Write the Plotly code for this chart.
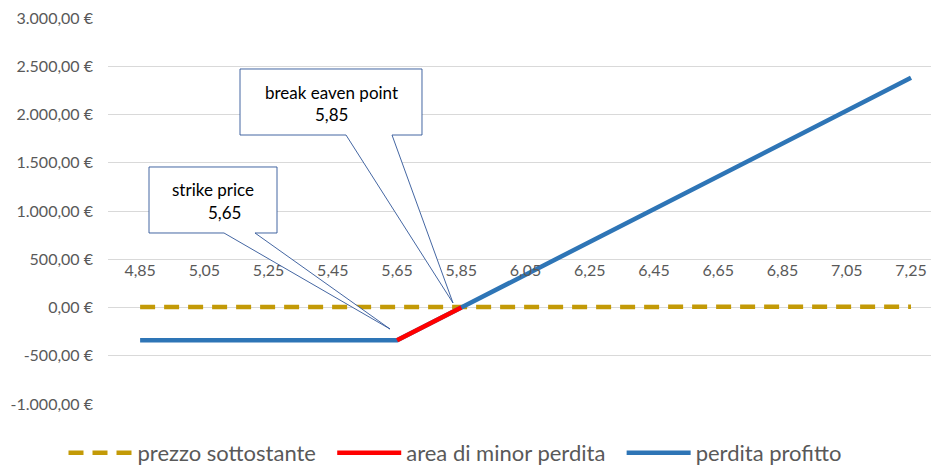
import plotly.graph_objects as go

# ---- data ----
categories = ["4,85", "5,05", "5,25", "5,45", "5,65", "5,85", "6,05",
              "6,25", "6,45", "6,65", "6,85", "7,05", "7,25"]
prezzo_sottostante = [4.85, 5.05, 5.25, 5.45, 5.65, 5.85, 6.05,
                      6.25, 6.45, 6.65, 6.85, 7.05, 7.25]
area_minor_perdita = [None, None, None, None, -340, 0, None,
                      None, None, None, None, None, None]
perdita_profitto = [-340, -340, -340, -340, -340, 0, 340,
                    680, 1020, 1360, 1700, 2040, 2380]
y_ticks = [-1000, -500, 0, 500, 1000, 1500, 2000, 2500, 3000]
y_ticktext = ["-1.000,00 €", "-500,00 €", "0,00 €", "500,00 €", "1.000,00 €",
              "1.500,00 €", "2.000,00 €", "2.500,00 €", "3.000,00 €"]

FONT = "Lato"
GRAY = "#595959"
PAD = "\u00a0\u00a0"

W, H = 931, 471
L, R, T, B = 108, 931, 18, 404  # plot area in pixels


def px(xp):
    return (xp - L) / (R - L)


def py(yp):
    return (B - yp) / (B - T)


fig = go.Figure()
fig.add_trace(go.Scatter(
    x=categories, y=prezzo_sottostante, mode="lines", name="prezzo sottostante" + PAD,
    line=dict(color="#C39A07", width=4.5, dash="15px,9px"), legendrank=1))
fig.add_trace(go.Scatter(
    x=categories, y=perdita_profitto, mode="lines", name="perdita profitto",
    line=dict(color="#2E75B6", width=4.5), legendrank=3))
fig.add_trace(go.Scatter(
    x=categories, y=area_minor_perdita, mode="lines", name="area di minor perdita" + PAD,
    line=dict(color="#FF0000", width=4.5), legendrank=2))


def callout(box, base, tip):
    x0, y0, x1, y1 = box
    b0, b1 = base
    tx, ty = tip
    pts = [(x0, y0), (x1, y0), (x1, y1), (b1, y1), (tx, ty), (b0, y1), (x0, y1)]
    d = "M " + " L ".join(f"{px(a):.5f},{py(b):.5f}" for a, b in pts) + " Z"
    return dict(type="path", path=d, xref="paper", yref="paper",
                fillcolor="white", line=dict(color="#2F5597", width=0.9),
                layer="above")


shapes = [
    callout((240, 69, 422, 135), (346, 392), (453, 303)),
    callout((149, 167, 277, 233), (224, 255), (390, 329)),
]


def label(xp, yp, text):
    return dict(x=px(xp), y=py(yp), xref="paper", yref="paper", text=text,
                xanchor="center", yanchor="middle", showarrow=False,
                font=dict(family=FONT, size=17, color="black"))


annotations = [
    label(331, 92, "break eaven point"),
    label(331, 114, "5,85"),
    label(213, 189, "strike price"),
    label(224, 212, "5,65"),
]

fig.update_layout(
    width=W, height=H,
    margin=dict(l=L, r=W - R, t=T, b=H - B, autoexpand=False),
    paper_bgcolor="white", plot_bgcolor="white",
    font=dict(family=FONT, color=GRAY),
    shapes=shapes, annotations=annotations,
    showlegend=True,
    legend=dict(orientation="h", xref="container", yref="container",
                x=455 / W, xanchor="center", y=1 - 453 / H, yanchor="middle",
                font=dict(family=FONT, size=22, color=GRAY),
                itemwidth=64, bgcolor="rgba(0,0,0,0)"),
    xaxis=dict(type="category", range=[-0.5, 12 + (R - 911) / 64.25],
               anchor="free", position=0.375, showgrid=False, showline=False,
               zeroline=False, ticks="", tickfont=dict(family=FONT, size=16, color=GRAY)),
    yaxis=dict(range=[-1000, 3000], tickvals=y_ticks, ticktext=y_ticktext,
               showgrid=True, gridcolor="#D9D9D9", gridwidth=1.2, zeroline=False,
               showline=False, ticks="", ticklabelstandoff=14,
               tickfont=dict(family=FONT, size=16, color=GRAY)),
)

fig.write_html("out.html", config={"displayModeBar": False},
               post_script="document.body.style.margin='0';document.body.style.overflow='hidden';")
